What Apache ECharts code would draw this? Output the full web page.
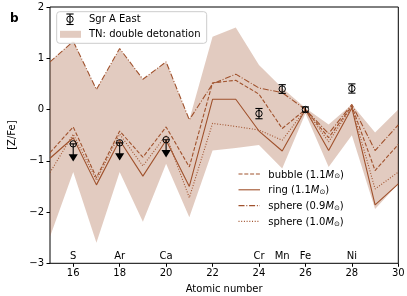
<!DOCTYPE html>
<html><head><meta charset="utf-8">
<script src="https://cdn.jsdelivr.net/npm/echarts@6/dist/echarts.min.js"></script>
<style>html,body{margin:0;padding:0;background:#fff}#c{width:407px;height:296px}</style>
</head><body><div id="c"></div>
<script>
// ---- data ----
const atomicNumbers = [15,16,17,18,19,20,21,22,23,24,25,26,27,28,29,30];
const bandUpper = [0.93,1.33,0.39,1.19,0.59,0.93,-0.2,1.42,1.6,0.87,0.42,0.03,-0.29,0.1,-0.45,0.0];
const bandLower = [-2.48,-1.22,-2.6,-1.22,-2.19,-1.06,-2.1,-0.8,-0.75,-0.69,-1.15,-0.08,-1.12,-0.5,-1.94,-1.45];
const bubble11 = [-0.84,-0.34,-1.33,-0.42,-0.93,-0.34,-1.12,0.52,0.57,0.3,-0.37,0.0,-0.55,0.07,-1.19,-0.68];
const ring11 = [-0.95,-0.55,-1.47,-0.6,-1.3,-0.6,-1.5,0.2,0.2,-0.42,-0.81,0.0,-0.8,0.03,-1.86,-1.45];
const sphere09 = [0.93,1.33,0.39,1.19,0.59,0.93,-0.2,0.5,0.69,0.42,0.33,0.0,-0.47,0.1,-0.8,-0.3];
const sphere10 = [-1.23,-0.48,-1.38,-0.48,-1.1,-0.5,-1.72,-0.27,-0.33,-0.4,-0.6,0.0,-0.63,0.05,-1.55,-1.22];
const obsZ = [16,18,20,24,25,26,28];
const obsVal = [-0.67,-0.65,-0.59,-0.08,0.4,0.0,0.41];
const obsErr = [0,0,0,0.1,0.085,0.05,0.09];
const obsUpperLimit = [1,1,1,0,0,0,0];
const upperLimitLen = 0.27;
const elemNames = ['S','Ar','Ca','Cr','Mn','Fe','Ni'];
const elemZ = [16,18,20,24,25,26,28];
const elemLabelY = -2.87;
const xTicks = [16,18,20,22,24,26,28,30];

// ---- style ----
const SIENNA = '#a0522d';
const BAND = 'rgba(160,82,45,0.3)';
const FONT = 'DejaVu Sans';
const DASHED = [4,1.8];
const DASHDOT = [6,1.8,1,1.8];
const DOTTED = [1,1.7];

const pairs = arr => atomicNumbers.map((z,i)=>[z,arr[i]]);
function lineSeries(name, arr, type){
  return {name, type:'line', data:pairs(arr), symbol:'none', z:3, silent:true,
    lineStyle:{color:SIENNA, width:1.1, type:type}};
}

const chart = echarts.init(document.getElementById('c'), null, {renderer:'canvas'});
const legendTextStyle = (t, x, y) => ({type:'text', x, y, z:101, silent:true,
  style:{text:t, font:'10px "DejaVu Sans"', fill:'#000', verticalAlign:'middle', align:'left',
    rich:{i:{fontStyle:'italic', fontSize:10, fontFamily:FONT, verticalAlign:'middle'},
          s:{fontSize:7, fontFamily:FONT, verticalAlign:'bottom', lineHeight:7}}}});
const legLine = (y, dash) => ({type:'line', z:101, silent:true,
  shape:{x1:238.5, y1:y, x2:260, y2:y}, style:{stroke:SIENNA, lineWidth:1.1, lineDash:dash}});

const option = {
  animation:false,
  textStyle:{fontFamily:FONT},
  grid:{left:50, right:8.7, top:7, bottom:32.7, show:true, borderColor:'#000', borderWidth:1, backgroundColor:'transparent',
    containLabel:false, outerBoundsMode:'none'},
  xAxis:{type:'value', min:15, max:30, name:'Atomic number', nameLocation:'middle', nameGap:21,
    nameTextStyle:{fontSize:10, color:'#000', fontFamily:FONT},
    axisLine:{show:false, onZero:false}, splitLine:{show:false},
    axisTick:{show:true, length:3.5, lineStyle:{color:'#000'}, customValues:xTicks},
    axisLabel:{fontSize:10, color:'#000', margin:5, fontFamily:FONT, customValues:xTicks}},
  yAxis:{type:'value', min:-3, max:2, interval:1, name:'[Z/Fe]', nameLocation:'middle', nameGap:33,
    nameTextStyle:{fontSize:10, color:'#000', fontFamily:FONT},
    axisLine:{show:false, onZero:false}, splitLine:{show:false},
    axisTick:{show:true, length:3.5, lineStyle:{color:'#000'}},
    axisLabel:{fontSize:10, color:'#000', margin:6, fontFamily:FONT,
      formatter:v=>String(v).replace('-','\u2212')}},
  series:[
    {name:'TN: double detonation', type:'custom', z:1, silent:true, clip:true,
     data:[[atomicNumbers[0], bandUpper[0]]], encode:{x:0,y:1},
     renderItem:(params, api)=>{
       const pts = [];
       atomicNumbers.forEach((z,i)=>pts.push(api.coord([z,bandUpper[i]])));
       for(let i=atomicNumbers.length-1;i>=0;i--) pts.push(api.coord([atomicNumbers[i],bandLower[i]]));
       return {type:'polygon', shape:{points:pts}, style:{fill:BAND}};
     }},
    lineSeries('bubble (1.1M)', bubble11, DASHED),
    lineSeries('ring (1.1M)', ring11, 'solid'),
    lineSeries('sphere (0.9M)', sphere09, DASHDOT),
    lineSeries('sphere (1.0M)', sphere10, DOTTED),
    {name:'elements', type:'custom', z:4, silent:true, encode:{x:0,y:1},
     data:elemZ.map((z,i)=>[z,elemLabelY,i]),
     renderItem:(params, api)=>{
       const c = api.coord([api.value(0), api.value(1)]);
       return {type:'text', x:c[0], y:c[1], style:{text:elemNames[api.value(2)], font:'10px "DejaVu Sans"', fill:'#000', align:'center', verticalAlign:'middle'}};
     }},
    {name:'Sgr A East', type:'custom', z:6, silent:true, encode:{x:0,y:1},
     data:obsZ.map((z,i)=>[z,obsVal[i],obsErr[i],obsUpperLimit[i]]),
     renderItem:(params, api)=>{
       const z=api.value(0), v=api.value(1), e=api.value(2), ul=api.value(3);
       const c = api.coord([z,v]);
       const st = {stroke:'#000', lineWidth:1.1};
       const cap = 3.6;
       const ch = [];
       if(ul){
         const end = api.coord([z, v-upperLimitLen]);
         ch.push({type:'line', shape:{x1:c[0],y1:c[1],x2:end[0],y2:end[1]}, style:st});
         ch.push({type:'line', shape:{x1:c[0]-cap,y1:c[1],x2:c[0]+cap,y2:c[1]}, style:st});
         ch.push({type:'polygon', shape:{points:[[end[0]-4.6,end[1]-3.5],[end[0]+4.6,end[1]-3.5],[end[0],end[1]+3.8]]}, style:{fill:'#000'}});
       } else {
         const t = api.coord([z,v+e]), b = api.coord([z,v-e]);
         ch.push({type:'line', shape:{x1:t[0],y1:t[1],x2:b[0],y2:b[1]}, style:st});
         ch.push({type:'line', shape:{x1:t[0]-cap,y1:t[1],x2:t[0]+cap,y2:t[1]}, style:st});
         ch.push({type:'line', shape:{x1:b[0]-cap,y1:b[1],x2:b[0]+cap,y2:b[1]}, style:st});
       }
       ch.push({type:'circle', shape:{cx:c[0],cy:c[1],r:3.2}, style:{fill:'none', stroke:'#000', lineWidth:1}});
       return {type:'group', children:ch};
     }}
  ],
  graphic:[
    {type:'text', x:10, y:18.5, z:101, silent:true, style:{text:'b', font:'bold 12px "DejaVu Sans"', fill:'#000', verticalAlign:'middle'}},
    // top-left legend
    {type:'rect', z:100, silent:true, shape:{x:56.7, y:11.7, width:150, height:31.6, r:3},
     style:{fill:'rgba(255,255,255,0.8)', stroke:'#cccccc', lineWidth:1}},
    {type:'line', z:101, silent:true, shape:{x1:70,y1:14,x2:70,y2:24.5}, style:{stroke:'#000', lineWidth:1.1}},
    {type:'line', z:101, silent:true, shape:{x1:66.4,y1:14,x2:73.6,y2:14}, style:{stroke:'#000', lineWidth:1.1}},
    {type:'line', z:101, silent:true, shape:{x1:66.4,y1:24.5,x2:73.6,y2:24.5}, style:{stroke:'#000', lineWidth:1.1}},
    {type:'circle', z:101, silent:true, shape:{cx:70, cy:19.2, r:3.2}, style:{fill:'none', stroke:'#000', lineWidth:1}},
    legendTextStyle('Sgr A East', 89, 19.5),
    {type:'rect', z:101, silent:true, shape:{x:60, y:30.8, width:21, height:7}, style:{fill:BAND}},
    legendTextStyle('TN: double detonation', 89, 34),
    // bottom-right legend
    legLine(174, DASHED), legendTextStyle('bubble (1.1{i|M}{s|\u2299})', 268.3, 175),
    legLine(189.8, 'solid'), legendTextStyle('ring (1.1{i|M}{s|\u2299})', 268.3, 190.8),
    legLine(205.6, DASHDOT), legendTextStyle('sphere (0.9{i|M}{s|\u2299})', 268.3, 206.6),
    legLine(221.4, DOTTED), legendTextStyle('sphere (1.0{i|M}{s|\u2299})', 268.3, 222.4)
  ]
};
chart.setOption(option);
</script></body></html>
